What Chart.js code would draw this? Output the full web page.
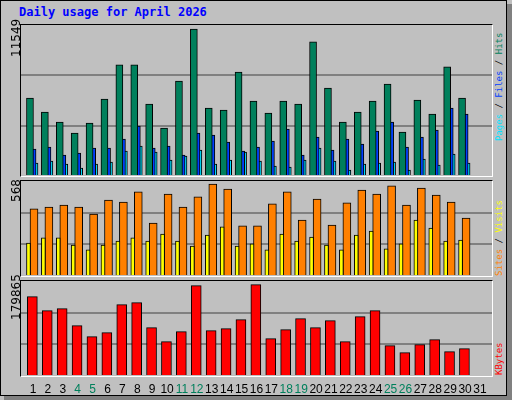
<!DOCTYPE html>
<html>
<head>
<meta charset="utf-8">
<script src="https://cdn.jsdelivr.net/npm/chart.js@4"></script>
<style>
body { margin: 0; background: #c0c0c0; }
#box { position: absolute; left: 0; top: 0; width: 505px; height: 394px; border: 1px solid #000; background: #c0c0c0; }
#shR { position: absolute; left: 507px; top: 4px; width: 5px; height: 396px; background: #808080; }
#shB { position: absolute; left: 4px; top: 396px; width: 508px; height: 4px; background: #808080; }
.plot { position: absolute; left: 20px; width: 471px; border-top: 1px solid #000; border-left: 1px solid #000; border-right: 1px solid #fff; border-bottom: 1px solid #fff; }
.plot canvas { display: block; }
.t { position: absolute; font-family: "DejaVu Sans Mono", monospace; white-space: nowrap; }
.rot { position: absolute; transform-origin: 0 0; transform: rotate(-90deg); white-space: nowrap; font-size: 12px; }
.rr { font-family: "DejaVu Sans Mono", monospace; font-size: 9px; }
.day { position: absolute; top: 382px; width: 16px; margin-left: -8px; text-align: center; font-family: "Liberation Sans", sans-serif; font-size: 12px; }
</style>
</head>
<body>
<div id="box"></div>
<div id="shR"></div>
<div id="shB"></div>
<div class="t" style="left:19px;top:5px;color:#0000ff;font-weight:bold;font-size:12px;">Daily usage for April 2026</div>

<div class="plot" style="top:24px;height:151px;"><canvas id="c1" width="471" height="151"></canvas></div>
<div class="plot" style="top:180px;height:95px;"><canvas id="c2" width="471" height="95"></canvas></div>
<div class="plot" style="top:280px;height:95px;"><canvas id="c3" width="471" height="95"></canvas></div>

<div class="rot" style="left:9px;top:57px;font-family:'DejaVu Sans',sans-serif;">11549</div>
<div class="rot" style="left:9px;top:202px;font-family:'DejaVu Sans',sans-serif;">568</div>
<div class="rot" style="left:9px;top:320px;font-family:'DejaVu Sans',sans-serif;">179865</div>

<div class="rot rr" style="left:494px;top:141px;"><span style="color:#00e0ff">Pages</span> / <span style="color:#0040ff">Files</span> / <span style="color:#00805c">Hits</span></div>
<div class="rot rr" style="left:494px;top:276px;"><span style="color:#ff8000">Sites</span> / <span style="color:#ffff00">Visits</span></div>
<div class="rot rr" style="left:494px;top:375px;color:#ff0000">KBytes</div>

<div id="days"></div>

<script>
const days = Array.from({ length: 31 }, (_, i) => i + 1);
const weekend = [4, 5, 11, 12, 18, 19, 25, 26];

const hits = [6130, 5030, 4244, 3380, 4166, 6052, 8725, 8725, 5659, 3773, 7467, 11549, 5345, 5188, 8174,
    5895, 4952, 5895, 5659, 10532, 6917, 4244, 5030, 5895, 7231, 3458, 5974, 4873, 8567, 6130];
const files = [2122, 2279, 1651, 1808, 2201, 2201, 2908, 3930, 2201, 2358, 1651, 3380, 3223, 2672, 1965,
    2279, 2751, 3694, 1651, 3065, 2044, 2908, 2515, 3537, 4244, 2279, 3065, 3616, 5345, 4873];
const pages = [1022, 1179, 943, 629, 943, 1100, 1965, 2358, 1886, 1258, 1572, 2044, 943, 1258, 1886,
    1179, 786, 707, 1258, 2201, 1179, 472, 943, 1022, 1100, 472, 1336, 865, 1729, 1022];
const visits = [414, 426, 438, 426, 383, 469, 457, 519, 327, 506, 426, 488, 568, 537, 309,
    309, 445, 519, 346, 475, 315, 451, 531, 506, 556, 438, 543, 500, 457, 358];
const sites = [204, 235, 235, 191, 161, 191, 216, 235, 216, 259, 216, 185, 253, 303, 185,
    198, 161, 259, 216, 241, 191, 161, 253, 278, 167, 198, 346, 296, 216, 222];
const kbytes = [156250, 128670, 132610, 99130, 77470, 85350, 140490, 144430, 95190, 67620, 87310, 177900, 89280, 93220, 110950,
    179865, 73530, 91250, 112920, 95190, 108980, 67620, 116860, 128670, 59740, 45950, 61710, 71560, 47920, 53830];

const xMin = 0.128, xMax = 31.74;
const dayPx = (d) => 20 + (d - xMin) / (xMax - xMin) * 471;

const daysDiv = document.getElementById('days');
days.forEach((d) => {
    const el = document.createElement('div');
    el.className = 'day';
    el.style.left = dayPx(d) + 'px';
    el.style.color = weekend.includes(d) ? '#00805c' : '#000';
    el.textContent = d;
    daysDiv.appendChild(el);
});

function ds(values, offset, color, width) {
    return {
        data: values.map((v, i) => ({ x: days[i] + offset, y: v })),
        backgroundColor: color,
        borderColor: '#000',
        borderWidth: 1,
        borderSkipped: 'bottom',
        barThickness: width,
        grouped: false,
    };
}

function panel(id, datasets, yMax) {
    new Chart(document.getElementById(id), {
        type: 'bar',
        data: { datasets },
        options: {
            responsive: false,
            animation: false,
            devicePixelRatio: 1,
            layout: { padding: 0 },
            plugins: { legend: { display: false }, tooltip: { enabled: false } },
            scales: {
                x: { type: 'linear', min: xMin, max: xMax, offset: false, display: false },
                y: {
                    min: 0, max: yMax,
                    ticks: { display: false, stepSize: yMax / 3 },
                    border: { display: false },
                    grid: {
                        drawTicks: false,
                        color: (c) => (c.index === 1 || c.index === 2 ? '#808080' : 'rgba(0,0,0,0)'),
                        lineWidth: 2,
                    },
                },
            },
        },
    });
}

panel('c1', [
    ds(hits, -0.27, '#00805c', 7),
    ds(files, -0.13, '#0040ff', 8),
    ds(pages, 0, '#00e0ff', 8),
], 11863);
panel('c2', [
    ds(sites, -0.37, '#ffff00', 4),
    ds(visits, 0, '#ff8000', 8),
], 586.5);
panel('c3', [
    ds(kbytes, -0.11, '#ff0000', 10),
], 187150);
</script>
</body>
</html>
